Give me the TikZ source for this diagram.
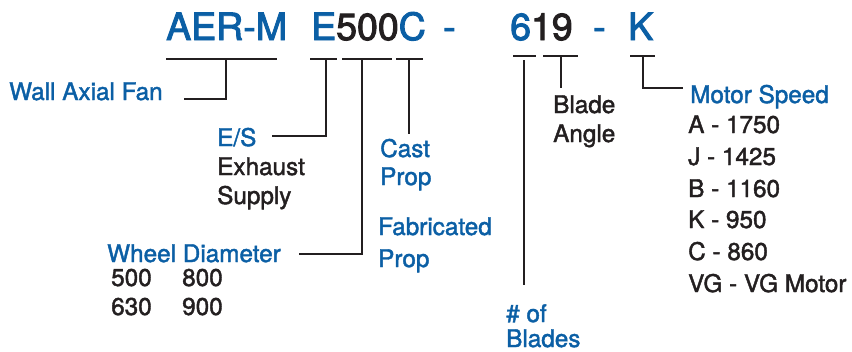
\documentclass[tikz,border=0pt]{standalone}
\usepackage{fontspec}
\setmainfont{TeX Gyre Heros}[FakeBold=1.7]
\newfontfamily\codefont{TeX Gyre Heros}[FakeBold=2.6]
\definecolor{codeblue}{HTML}{0B5FA5}
\definecolor{ink}{HTML}{231F20}
\begin{document}
\begin{tikzpicture}[x=1pt,y=-1pt,
  title/.style={inner sep=0pt,anchor=base west,font=\codefont\fontsize{37.5}{40}\selectfont},
  lbl/.style={inner sep=0pt,anchor=base west,font=\fontsize{24.3}{26}\selectfont},
  bl/.style={lbl,text=codeblue},
  dk/.style={lbl,text=ink},
  wire/.style={draw=ink,line width=2pt}]
\useasboundingbox (0,0) rectangle (852,351);
% title code
\node[title,text=codeblue] (t1) at (166,40) {AER-M};
\node[title] (t2) at (311,40) {\textcolor{codeblue}{E}\textcolor{ink}{500}\textcolor{codeblue}{C}};
\node[title,text=codeblue] (t3) at (443,40) {-};
\node[title] (t4) at (510,40) {\textcolor{codeblue}{6}\textcolor{ink}{19}};
\node[title,text=codeblue] (t5) at (593,40) {-};
\node[title,text=codeblue] (t6) at (628,40) {K};
% labels
\node[bl] (wall) at (9,100) {Wall Axial Fan};
\node[bl] (es) at (217,146) {E/S};
\node[dk] (exh) at (217,175) {Exhaust};
\node[dk] (sup) at (217,204) {Supply};
\node[bl] (cast) at (380,157) {Cast};
\node[bl] (castp) at (380,185) {Prop};
\node[bl] (fab) at (378,235) {Fabricated};
\node[bl] (fabp) at (378,267) {Prop};
\node[bl] (wheel) at (107,262) {Wheel Diameter};
\node[dk] (d500) at (111,286) {500};
\node[dk] (d800) at (182,286) {800};
\node[dk] (d630) at (111,315) {630};
\node[dk] (d900) at (182,315) {900};
\node[bl] (nof) at (506,322) {\# of};
\node[bl] (nblades) at (506,347) {Blades};
\node[dk] (blade) at (553,113) {Blade};
\node[dk] (angle) at (553,142) {Angle};
\node[bl] (motor) at (690,103) {Motor Speed};
\node[dk] (mA) at (688,133) {A - 1750};
\node[dk] (mJ) at (688,165) {J - 1425};
\node[dk] (mB) at (688,197) {B - 1160};
\node[dk] (mK) at (688,228) {K - 950};
\node[dk] (mC) at (688,260) {C - 860};
\node[dk] (mV) at (688,292) {VG - VG Motor};
% connector points
\coordinate (u1a) at (166,59); \coordinate (u1b) at (277,59);
\coordinate (u1m) at (226,59); \coordinate (u1e) at (226,99); \coordinate (u1t) at (184,99);
\coordinate (u2a) at (310,59); \coordinate (u2b) at (337,59);
\coordinate (u2m) at (326,59); \coordinate (u2e) at (326,136); \coordinate (u2t) at (272,136);
\coordinate (u3a) at (342,59); \coordinate (u3b) at (392,59);
\coordinate (u3m) at (362,59); \coordinate (u3e) at (362,254); \coordinate (u3t) at (299,254);
\coordinate (u4a) at (396,59); \coordinate (u4b) at (423,59);
\coordinate (u4m) at (409,59); \coordinate (u4e) at (409,134);
\coordinate (u5a) at (513,56); \coordinate (u5b) at (536,56);
\coordinate (u5m) at (524,60); \coordinate (u5e) at (524,285);
\coordinate (u6a) at (543,56); \coordinate (u6b) at (578,56);
\coordinate (u6m) at (561,56); \coordinate (u6e) at (561,88);
\coordinate (u7a) at (630,56); \coordinate (u7b) at (655,56);
\coordinate (u7m) at (643,56); \coordinate (u7e) at (643,88); \coordinate (u7t) at (683,88);
\draw[wire] (u1a) -- (u1b); \draw[wire] (u1m) -- (u1e) -- (u1t);
\draw[wire] (u2a) -- (u2b); \draw[wire] (u2m) -- (u2e) -- (u2t);
\draw[wire] (u3a) -- (u3b); \draw[wire] (u3m) -- (u3e) -- (u3t);
\draw[wire] (u4a) -- (u4b); \draw[wire] (u4m) -- (u4e);
\draw[wire] (u5a) -- (u5b); \draw[wire] (u5m) -- (u5e);
\draw[wire] (u6a) -- (u6b); \draw[wire] (u6m) -- (u6e);
\draw[wire] (u7a) -- (u7b); \draw[wire] (u7m) -- (u7e) -- (u7t);
\end{tikzpicture}
\end{document}
